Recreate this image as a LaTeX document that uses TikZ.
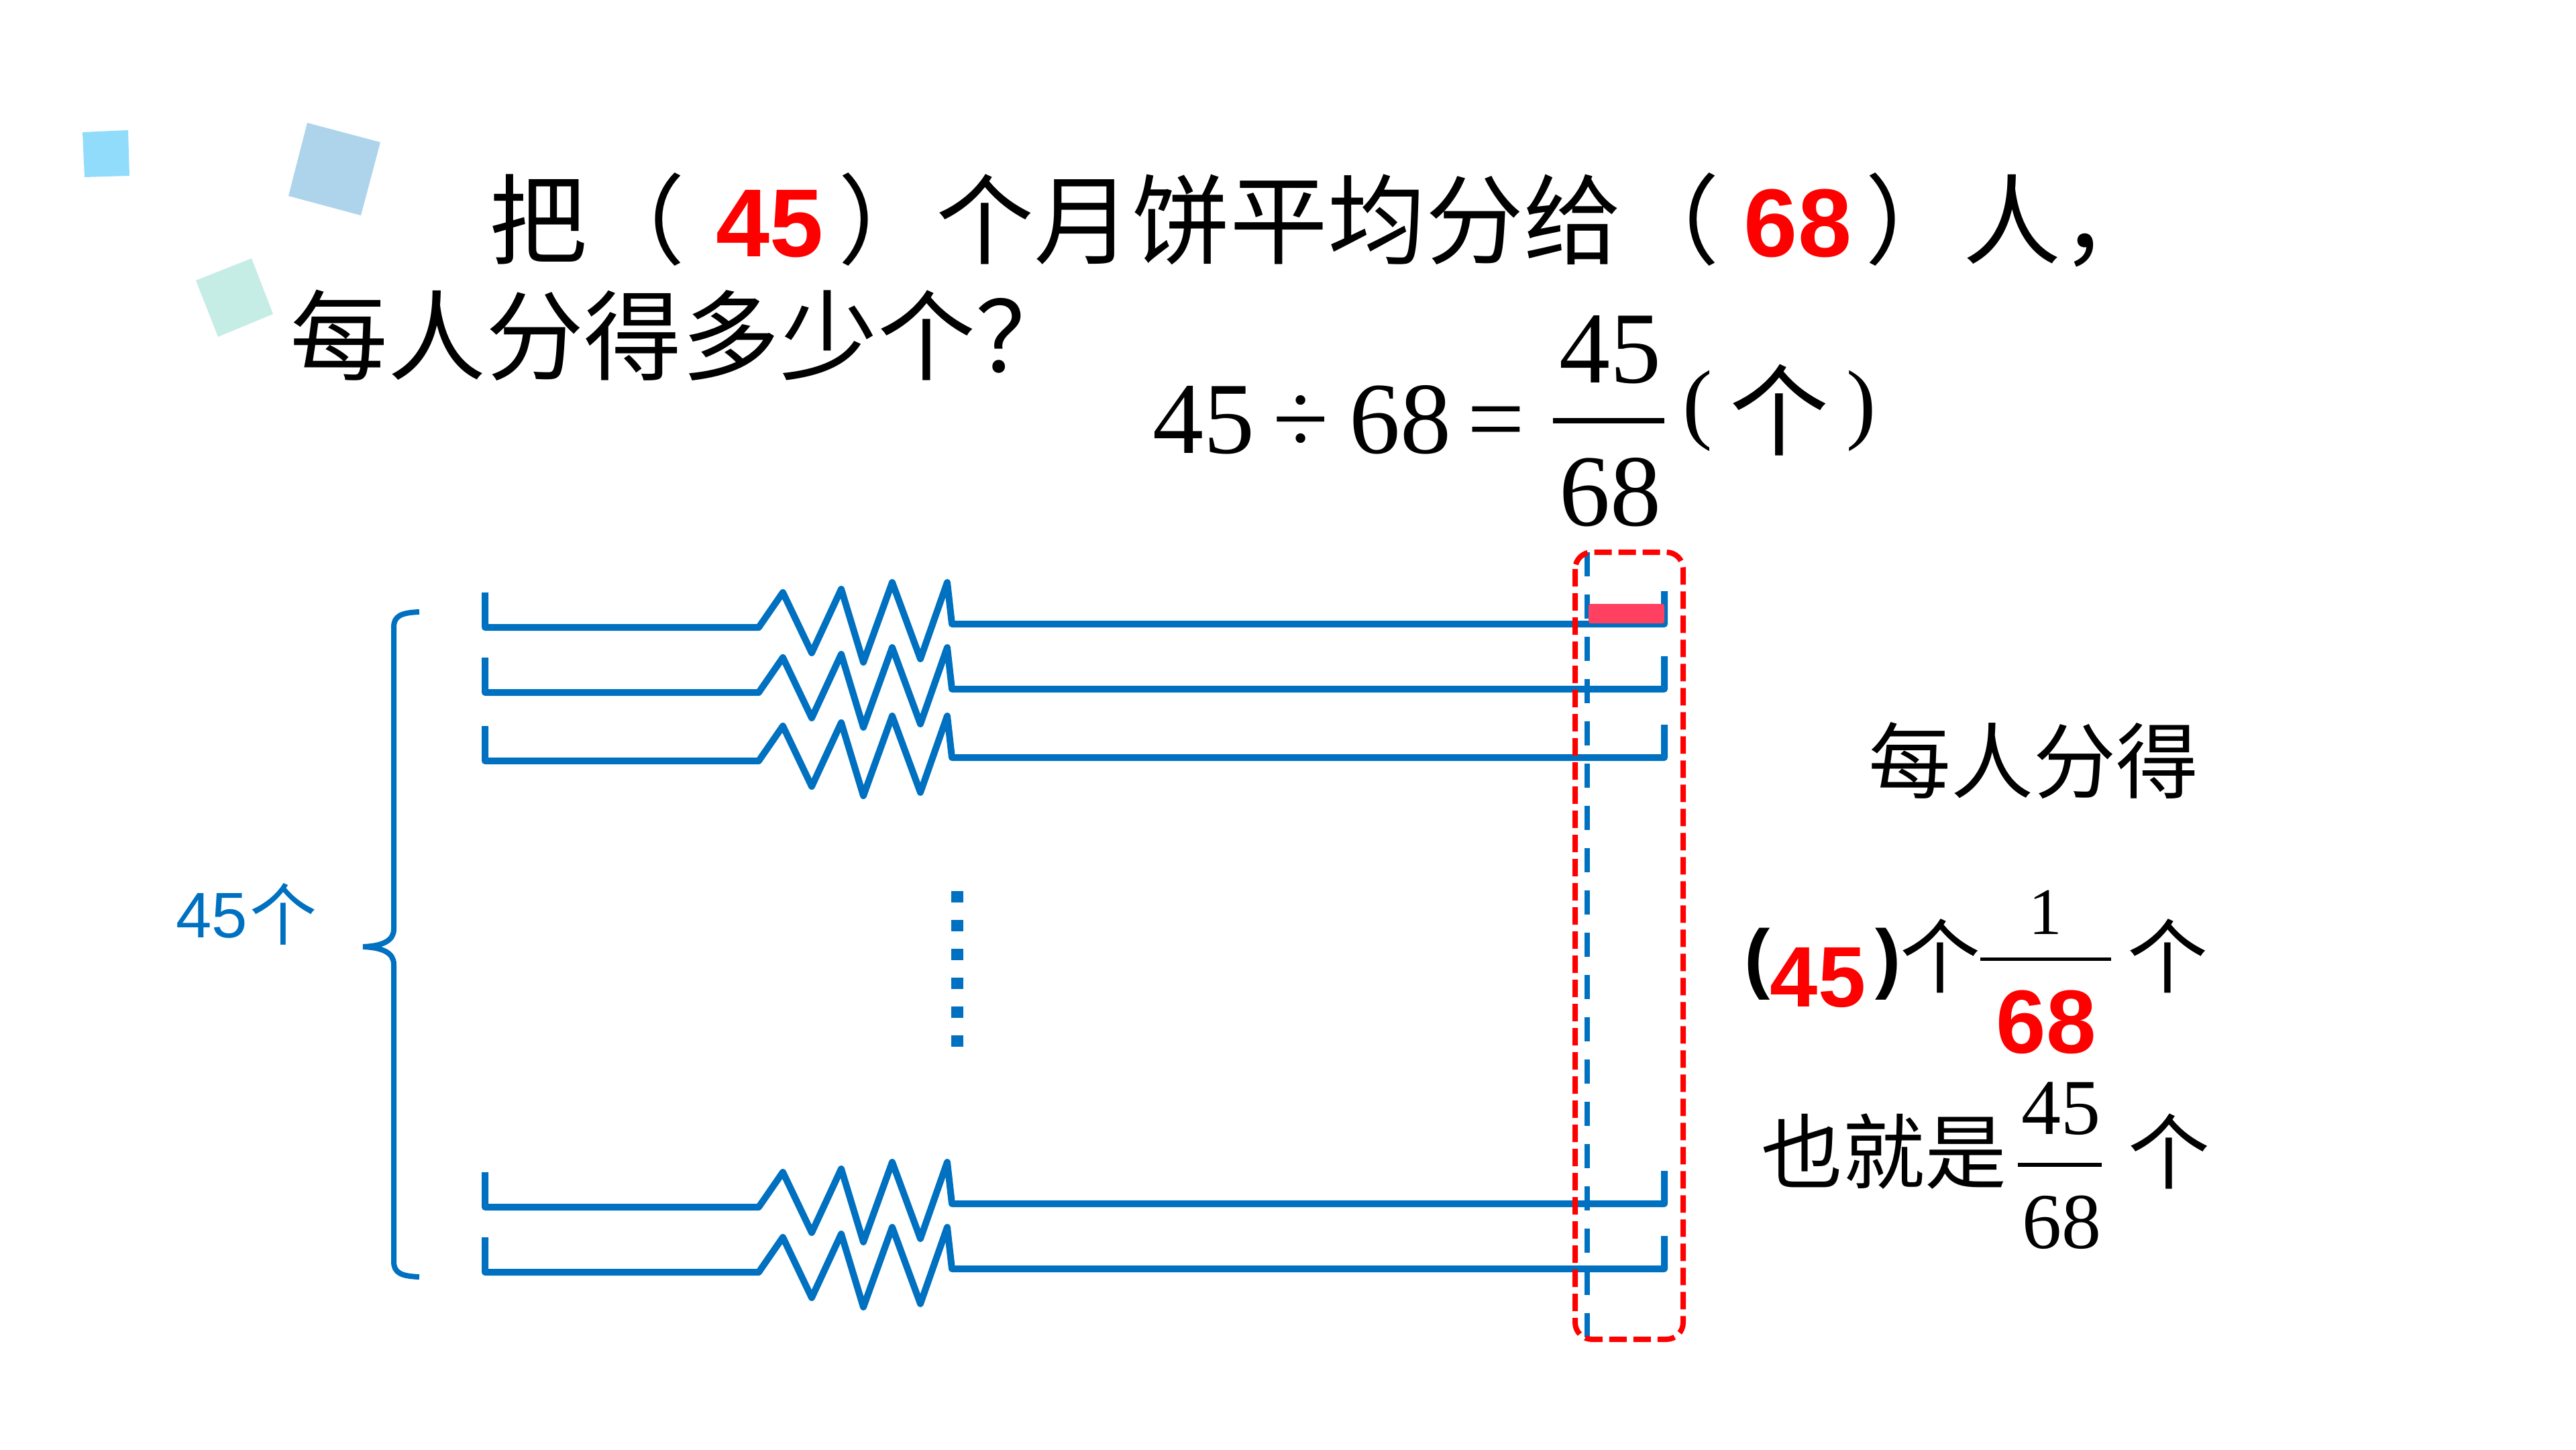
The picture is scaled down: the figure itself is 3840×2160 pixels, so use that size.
\documentclass[tikz,border=0pt]{standalone}
\usepackage{fontspec}
\setmainfont{Liberation Serif}
\newfontfamily\cjk{Noto Sans CJK SC}
\newfontfamily\arial{Liberation Sans}
\definecolor{bblue}{HTML}{0070C0}
\definecolor{pinkc}{HTML}{FF4060}
\definecolor{sqA}{HTML}{92DCFB}
\definecolor{sqB}{HTML}{AED4EC}
\definecolor{sqC}{HTML}{C6ECE6}
\newcommand{\fs}[1]{\fontsize{#1}{#1}\selectfont}
\begin{document}
\begin{tikzpicture}[x=1pt,y=-1pt,
  txt/.style={inner sep=0pt,outer sep=0pt},
  bar/.style={bblue,line width=10pt,line join=round,line cap=butt},
  row/.pic={
    \draw[bar] (723,-47) -- (723,5) -- (1131,5) -- (1167,-47) -- (1210,43) -- (1254,-52)
      -- (1287,57) -- (1330,-62) -- (1372,52) -- (1412,-62) -- (1419,0) -- (2481,0) -- (2481,-49);
  }]
\useasboundingbox[fill=white] (0,0) rectangle (3840,2160);

% decorative squares
\fill[sqA] (123,197) -- (191,194) -- (193,262) -- (126,264) -- cycle;
\fill[sqB] (458,183) -- (567,212) -- (538,321) -- (430,292) -- cycle;
\fill[sqC] (292,418) -- (375,385) -- (407,468) -- (325,502) -- cycle;

% title
\node[txt,anchor=base west,font=\cjk\fs{146}] (t1a) at (729,382) {把（};
\node[txt,anchor=base,text=red,font=\arial\bfseries\fs{144}] (t1b) at (1148,382) {45};
\node[txt,anchor=base west,font=\cjk\fs{146}] (t1c) at (1249,382) {）个月饼平均分给（};
\node[txt,anchor=base,text=red,font=\arial\bfseries\fs{144}] (t1d) at (2680,382) {68};
\node[txt,anchor=base west,font=\cjk\fs{146}] (t1e) at (2780,382) {）人，};
\node[txt,anchor=base west,font=\cjk\fs{146}] (t2) at (432,555) {每人分得多少个？};

% equation
\node[txt,anchor=base west,font=\fs{152}] (eq) at (1718,675) {45\hspace{28pt}÷\hspace{30pt}68\hspace{24pt}=};
\node[txt,anchor=base,font=\fs{152}] (eqn) at (2400,570) {45};
\node[txt,anchor=base,font=\fs{152}] (eqd) at (2400,783) {68};
\draw[line width=8pt] (2315,627) -- (2481,627);
\node[txt,anchor=base west,font=\fs{133}] (eqL) at (2508,644) {(};
\node[txt,anchor=base,font=\cjk\fs{148}] (eqG) at (2652,667) {个};
\node[txt,anchor=base east,font=\fs{133}] (eqR) at (2797,644) {)};

% rows
\pic at (0,930) {row};
\pic at (0,1027) {row};
\pic at (0,1129) {row};
\pic at (0,1794) {row};
\pic at (0,1891) {row};

% vertical dots
\draw[bblue,line width=18pt,dash pattern=on 17pt off 26pt] (1427,1328) -- (1427,1562);

% brace
\draw[bblue,line width=8pt] (625,912) .. controls (598,913) and (587,918) .. (587,935) -- (587,1385)
  .. controls (587,1402) and (570,1410) .. (541,1411) .. controls (570,1412) and (587,1420) .. (587,1437)
  -- (587,1880) .. controls (587,1897) and (598,1902) .. (625,1903);
\node[txt,anchor=base west,text=bblue,font=\arial\fs{96}] (n45) at (262,1397) {45};
\node[txt,anchor=base,text=bblue,font=\cjk\fs{100}] (nge) at (422,1400) {个};

% blue dashed column line and red dashed frame
\draw[bblue,line width=8pt,dash pattern=on 36pt off 27pt] (2366,823) -- (2366,1993);
\fill[pinkc,rounded corners=3pt] (2368,900) rectangle (2481,929);
\draw[red,line width=8pt,dash pattern=on 26pt off 10pt,rounded corners=25pt] (2348,823) rectangle (2509,1996);

% right text
\node[txt,anchor=base west,font=\cjk\fs{123}] (r1) at (2785,1180) {每人分得};
\node[txt,anchor=base west,font=\arial\bfseries\fs{115}] (lp) at (2600,1466) {(};
\node[txt,anchor=base,text=red,font=\arial\bfseries\fs{128}] (r45) at (2710,1500) {45};
\node[txt,anchor=base east,font=\arial\bfseries\fs{115}] (rp) at (2834,1466) {)};
\node[txt,anchor=base,font=\cjk\fs{120}] (g1) at (2892,1470) {个};
\node[txt,anchor=base,font=\fs{99}] (f1n) at (3049,1392) {1};
\draw[line width=5pt] (2952,1429) -- (3147,1429);
\node[txt,anchor=base,text=red,font=\arial\bfseries\fs{134}] (f1d) at (3050,1569) {68};
\node[txt,anchor=base,font=\cjk\fs{120}] (g2) at (3231,1470) {个};

\node[txt,anchor=base west,font=\cjk\fs{122}] (r3) at (2625,1762) {也就是};
\node[txt,anchor=base,font=\fs{118}] (f2n) at (3072,1690) {45};
\draw[line width=6pt] (3008,1736) -- (3133,1736);
\node[txt,anchor=base,font=\fs{118}] (f2d) at (3073,1860) {68};
\node[txt,anchor=base,font=\cjk\fs{122}] (g3) at (3233,1762) {个};
\end{tikzpicture}
\end{document}
